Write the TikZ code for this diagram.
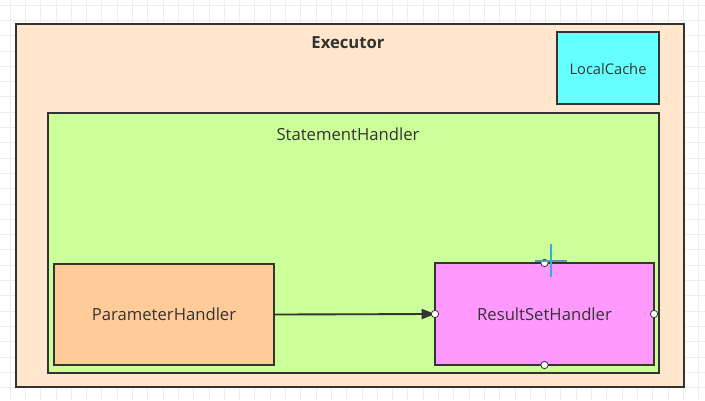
\documentclass[tikz,border=0pt]{standalone}
\usepackage{fontspec}
\setmainfont{Open Sans}
\usetikzlibrary{arrows.meta}
\definecolor{gridc}{HTML}{EDEDED}
\definecolor{edge}{HTML}{333333}
\definecolor{exfill}{HTML}{FFE6CC}
\definecolor{stfill}{HTML}{CCFF99}
\definecolor{lcfill}{HTML}{66FFFF}
\definecolor{phfill}{HTML}{FFCC99}
\definecolor{rsfill}{HTML}{FF99FF}
\definecolor{txt}{HTML}{333333}
\definecolor{cursorc}{HTML}{3FA9D8}
\tikzset{
  box/.style={draw=edge, line width=1.4pt, inner sep=0pt, outer sep=0pt},
  lbl/.style={inner sep=0pt, text=txt, font=\fontsize{12.5}{14}\selectfont},
  port/.style={circle, draw=edge, fill=white, line width=0.6pt, minimum size=5.5pt, inner sep=0pt},
}
\begin{document}
\begin{tikzpicture}[x=0.75pt,y=-0.75pt]
\useasboundingbox (0,0) rectangle (705,400);
\fill[white] (0,0) rectangle (705,400);
% grid
\foreach \i in {0,...,46} {\draw[gridc, line width=0.6pt] (10+\i*15.3,0) -- (10+\i*15.3,400);}
\foreach \j in {0,...,26} {\draw[gridc, line width=0.6pt] (0,5+\j*15.3) -- (705,5+\j*15.3);}
% Executor
\draw[box, fill=exfill] (16,24) rectangle (684,387);
\node[lbl, font=\fontsize{12.5}{14}\selectfont\bfseries] (ex) at (348,43) {Executor};
% LocalCache
\draw[box, fill=lcfill] (557,32) rectangle (659,104);
\node[lbl, font=\fontsize{11}{13}\selectfont] (lc) at (608,69) {LocalCache};
% StatementHandler
\draw[box, fill=stfill] (48,113) rectangle (659,373);
\node[lbl] (sh) at (348,134) {StatementHandler};
% ParameterHandler
\node[box, fill=phfill, minimum width=220*0.75pt, minimum height=101*0.75pt, lbl, text=txt] (ph) at (164,314.5) {ParameterHandler};
% ResultSetHandler
\node[box, fill=rsfill, minimum width=219*0.75pt, minimum height=102*0.75pt, lbl, text=txt] (rs) at (544.5,314) {ResultSetHandler};
% arrow
\draw[edge, line width=1.4pt, -{Triangle[length=10pt,width=7.5pt]}] (ph.east) -- (rs.west);
% ports
\node[port] (p1) at (rs.north) {};
\node[port] (p2) at (rs.east) {};
\node[port] (p3) at (rs.south) {};
\node[port] (p4) at (rs.west) {};
% cursor
\draw[cursorc!60!gray, line width=0.9pt] (535,261) -- (567,261);
\draw[cursorc, line width=1.1pt] (551,244) -- (551,277);
\end{tikzpicture}
\end{document}
